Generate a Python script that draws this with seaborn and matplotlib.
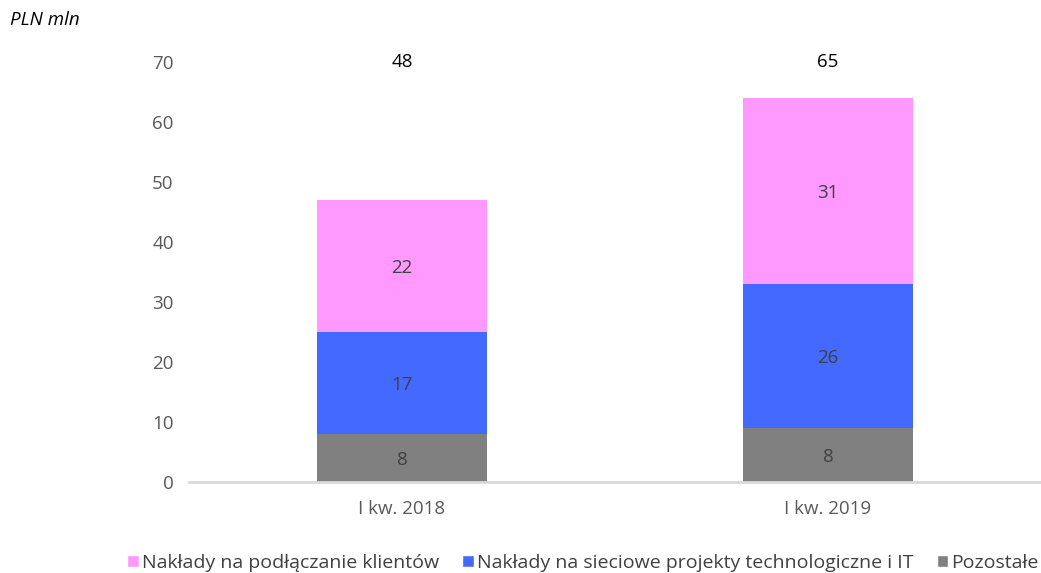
import matplotlib
matplotlib.use("Agg")
import matplotlib.pyplot as plt
from matplotlib.patches import Patch
import seaborn as sns
import pandas as pd
import numpy as np

categories = ["I kw. 2018", "I kw. 2019"]
series_names = ["Pozostałe", "Nakłady na sieciowe projekty technologiczne i IT", "Nakłady na podłączanie klientów"]
pozostale = [8, 9]
siec_it = [17, 24]
klienci = [22, 31]
labels_pozostale = ["8", "8"]
labels_siec_it = ["17", "26"]
labels_klienci = ["22", "31"]
totals_labels = ["48", "65"]
colors = ["#808080", "#4469FF", "#FF99FF"]

sns.set_theme(style="white")
plt.rcParams['font.family'] = ['Open Sans', 'DejaVu Sans']

fig = plt.figure(figsize=(10.41, 5.73), dpi=100)
ax = fig.add_axes([189/1041, 1 - 482/573, 1 - 189/1041, (482 - 62)/573])

values = [pozostale, siec_it, klienci]
labels = [labels_pozostale, labels_siec_it, labels_klienci]
cum = np.cumsum(np.array(values, dtype=float), axis=0)

for i in reversed(range(3)):
    df = pd.DataFrame({"cat": categories, "val": cum[i]})
    sns.barplot(data=df, x="cat", y="val", color=colors[i], width=0.4,
                saturation=1, linewidth=0, ax=ax, zorder=2)

for i in range(3):
    bottoms = cum[i] - np.array(values[i])
    for j in range(len(categories)):
        ax.text(j, bottoms[j] + values[i][j] / 2 - 0.4, labels[i][j], ha="center", va="center",
                fontsize=13.5, color="#404040")

for j in range(len(categories)):
    ax.text(j, 70, totals_labels[j], ha="center", va="center", fontsize=13.5,
            color="black", clip_on=False)

ax.set_ylim(0, 70)
ax.set_xlim(-0.5, 1.5)
ax.set_yticks(range(0, 71, 10))
ax.set_xlabel("")
ax.set_ylabel("")
for s in ["top", "right", "left"]:
    ax.spines[s].set_visible(False)
ax.spines["bottom"].set_color("#D9D9D9")
ax.spines["bottom"].set_linewidth(2)
ax.tick_params(axis="both", length=0, labelsize=13.5, colors="#595959")
ax.tick_params(axis="y", pad=11)
ax.tick_params(axis="x", pad=13)

fig.text(10/1041, 1 - 20/573, "PLN mln", fontsize=13.5, style="italic", color="black",
         va="center", ha="left")

handles = [Patch(facecolor=colors[2]), Patch(facecolor=colors[1]), Patch(facecolor=colors[0])]
leg_labels = [series_names[2], series_names[1], series_names[0]]
fig.legend(handles, leg_labels, loc="center", bbox_to_anchor=(583/1041, 1 - 563/573),
           ncol=3, frameon=False, fontsize=14, handlelength=0.6, handleheight=0.6,
           handletextpad=0.15, columnspacing=1.2, labelcolor="#404040")

fig.savefig("out.png", dpi=100)
